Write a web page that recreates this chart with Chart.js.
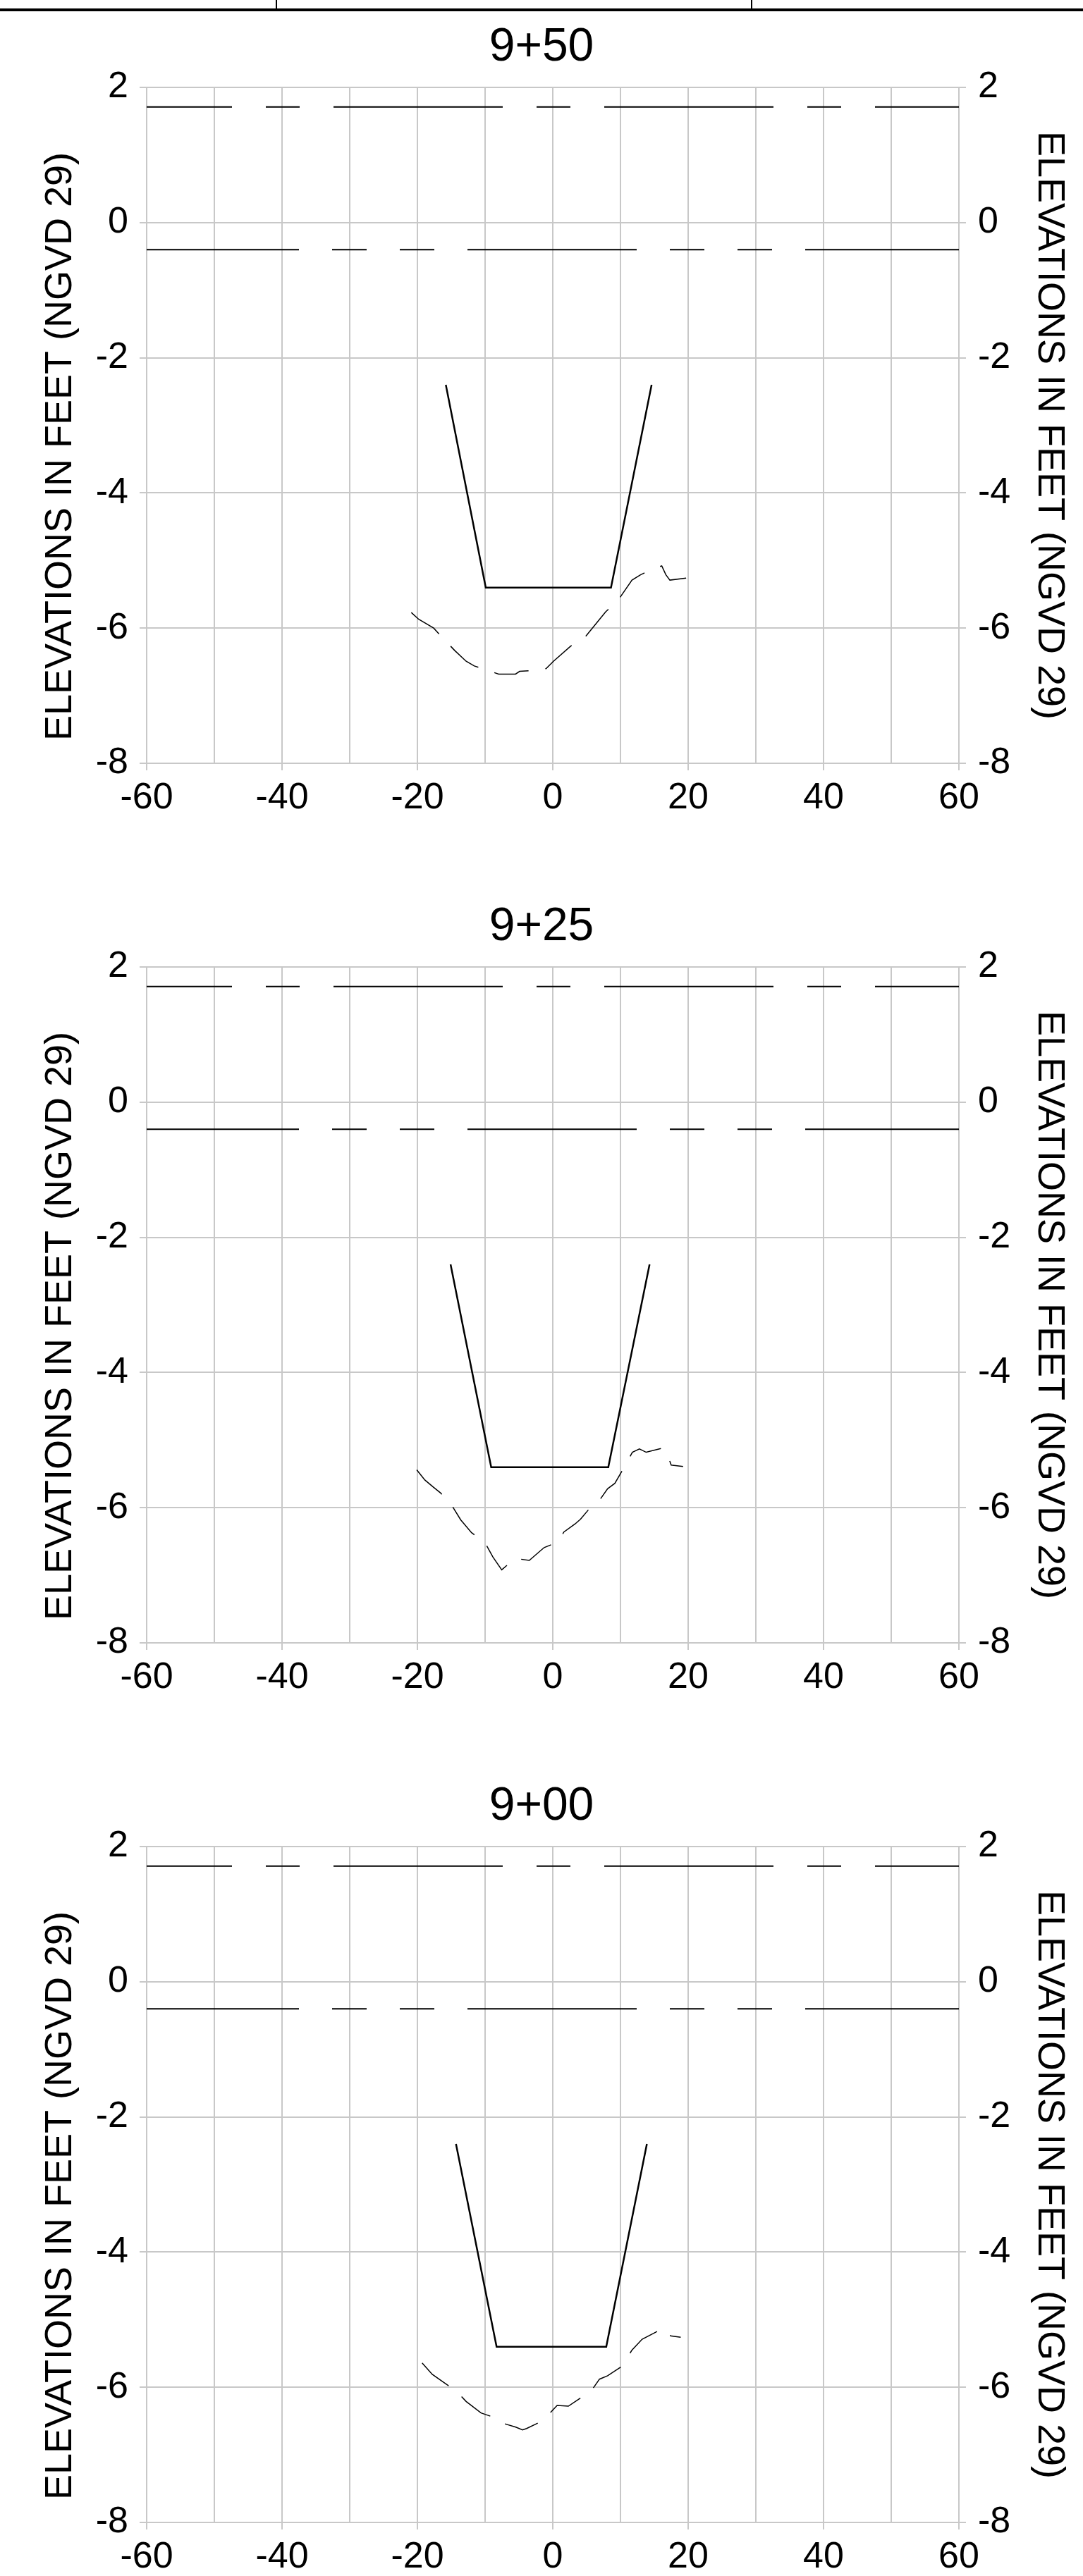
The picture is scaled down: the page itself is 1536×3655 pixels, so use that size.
<!DOCTYPE html>
<html>
<head>
<meta charset="utf-8">
<script src="https://cdn.jsdelivr.net/npm/chart.js@4.4.1/dist/chart.umd.min.js"></script>
<style>
  body { margin: 0; background: #fff; width: 1536px; height: 3655px; position: relative; overflow: hidden; }
  .rule { position: absolute; left: 0; top: 12px; width: 1536px; height: 4px; background: #000; }
  .cell { position: absolute; top: 0; width: 2px; height: 13px; background: #000; }
  canvas { position: absolute; left: 0; }
</style>
</head>
<body>
<div class="rule"></div>
<div class="cell" style="left:391px"></div>
<div class="cell" style="left:1065px"></div>

<script>
const STATIONS = ['9+50', '9+25', '9+00'];
const AXIS_TITLE = 'ELEVATIONS IN FEET (NGVD 29)';
const X_RANGE = [-60, 60];
const Y_RANGE = [-8, 2];
const WATER_LEVELS = [1.71, -0.40];

const CHANNEL_950_X = [-15.8, -9.9, 8.6, 14.6];
const CHANNEL_950_Y = [-2.4, -5.4, -5.4, -2.4];
const CHANNEL_925_X = [-15.1, -9.1, 8.2, 14.3];
const CHANNEL_925_Y = [-2.4, -5.4, -5.4, -2.4];
const CHANNEL_900_X = [-14.3, -8.3, 7.9, 13.9];
const CHANNEL_900_Y = [-2.4, -5.4, -5.4, -2.4];

const GROUND_950_X = [-20.9, -19.8, -17.6, -16.3, -14.5, -12.8, -11.6, -10.4, -8.0, -5.5, -4.9, -3.4, -1.0, 0.1, 2.6, 4.8, 7.8, 9.7, 11.7, 13.0, 15.1, 16.1, 16.7, 17.3, 19.7];
const GROUND_950_Y = [-5.77, -5.87, -6.00, -6.14, -6.33, -6.49, -6.56, -6.60, -6.68, -6.68, -6.64, -6.63, -6.60, -6.49, -6.27, -6.13, -5.76, -5.58, -5.29, -5.21, -5.11, -5.08, -5.21, -5.29, -5.26];
const GROUND_925_X = [-20.1, -18.9, -17.6, -16.6, -14.9, -13.6, -12.0, -10.05, -8.85, -7.54, -5.58, -3.47, -1.28, 0.72, 1.64, 3.3, 4.1, 5.7, 6.77, 8.1, 9.17, 10.5, 11.76, 12.8, 13.8, 16.2, 16.7, 17.5, 19.25];
const GROUND_925_Y = [-5.44, -5.59, -5.70, -5.78, -5.97, -6.18, -6.37, -6.51, -6.73, -6.92, -6.75, -6.78, -6.59, -6.51, -6.36, -6.24, -6.17, -5.98, -5.91, -5.72, -5.64, -5.41, -5.18, -5.13, -5.18, -5.12, -5.15, -5.37, -5.39];
const GROUND_900_X = [-19.3, -17.8, -16.1, -14.2, -12.8, -10.6, -8.26, -7.46, -5.47, -4.47, -3.87, -1.56, 0.64, 2.3, 4.4, 5.5, 6.9, 8.1, 10.2, 11.7, 13.2, 15.3, 16.0, 17.0, 17.4, 18.9];
const GROUND_900_Y = [-5.64, -5.81, -5.93, -6.06, -6.21, -6.38, -6.46, -6.53, -6.59, -6.63, -6.61, -6.50, -6.27, -6.28, -6.14, -6.08, -5.88, -5.83, -5.69, -5.45, -5.29, -5.18, -5.15, -5.15, -5.24, -5.26];

const SECTIONS = [
  { title: STATIONS[0], cx: CHANNEL_950_X, cy: CHANNEL_950_Y, gx: GROUND_950_X, gy: GROUND_950_Y },
  { title: STATIONS[1], cx: CHANNEL_925_X, cy: CHANNEL_925_Y, gx: GROUND_925_X, gy: GROUND_925_Y },
  { title: STATIONS[2], cx: CHANNEL_900_X, cy: CHANNEL_900_Y, gx: GROUND_900_X, gy: GROUND_900_Y },
];

// line styles for the two water levels (upper: long-short, lower: long-short-short)
const WATER_STYLES = [
  { dash: [240, 48, 48, 48], offset: 119 },
  { dash: [240, 47, 49, 47, 49, 47], offset: 24 },
];

const FONT = 'Liberation Sans, Arial, sans-serif';
const GRID = '#c8c8c8';
const STEP = 1248;
const CANVAS_H = 1159;

Chart.defaults.font.family = FONT;
Chart.defaults.color = '#000';

function points(xs, ys) {
  return xs.map((x, i) => ({ x, y: ys[i] }));
}

function waterDataset(level, i) {
  return {
    data: points(X_RANGE, [level, level]),
    borderColor: '#000',
    borderWidth: 2,
    borderDash: WATER_STYLES[i].dash,
    borderDashOffset: WATER_STYLES[i].offset,
  };
}

function makeChart(section, i) {
  const canvas = document.createElement('canvas');
  canvas.width = 1536;
  canvas.height = CANVAS_H;
  canvas.style.top = (i * STEP) + 'px';
  document.body.appendChild(canvas);

  const yCommon = {
    type: 'linear',
    min: Y_RANGE[0],
    max: Y_RANGE[1],
    ticks: { stepSize: 2, font: { size: 52 }, color: '#000' },
    border: { color: GRID, width: 2 },
  };

  return new Chart(canvas, {
    type: 'scatter',
    data: {
      datasets: [
        ...WATER_LEVELS.map(waterDataset),
        {
          data: points(section.cx, section.cy),
          borderColor: '#000',
          borderWidth: 2.5,
        },
        {
          data: points(section.gx, section.gy),
          borderColor: '#000',
          borderWidth: 1.5,
          borderDash: [50, 24],
        },
      ],
    },
    options: {
      responsive: false,
      animation: false,
      showLine: true,
      layout: { padding: 0 },
      elements: { point: { radius: 0 }, line: { tension: 0 } },
      plugins: {
        legend: { display: false },
        tooltip: { enabled: false },
        title: {
          display: true,
          text: section.title,
          color: '#000',
          font: { size: 66, weight: 'normal' },
          padding: { top: 28, bottom: 16.8 },
        },
      },
      scales: {
        x: {
          type: 'linear',
          min: X_RANGE[0],
          max: X_RANGE[1],
          ticks: {
            stepSize: 10,
            autoSkip: false,
            maxRotation: 0,
            padding: 8,
            font: { size: 52 },
            color: '#000',
            callback: v => (v % 20 === 0 ? v : ''),
          },
          grid: {
            color: GRID,
            lineWidth: 2,
            tickLength: 10,
            tickColor: ctx => (ctx.tick && ctx.tick.value % 20 === 0 ? GRID : 'rgba(0,0,0,0)'),
          },
          border: { color: GRID, width: 2 },
          afterFit: s => { s.height = CANVAS_H - 1083; },
        },
        y: {
          ...yCommon,
          position: 'left',
          ticks: { ...yCommon.ticks, padding: 16 },
          grid: { color: GRID, lineWidth: 2, tickLength: 10 },
          title: { display: true, text: AXIS_TITLE + '\u00a0\u00a0\u00a0\u00a0', font: { size: 54 }, color: '#000', padding: { top: 54, bottom: 0 } },
          afterFit: s => { s.width = 208; },
        },
        y2: {
          ...yCommon,
          position: 'right',
          ticks: { ...yCommon.ticks, padding: 17 },
          grid: { color: GRID, lineWidth: 2, tickLength: 10, drawOnChartArea: false },
          title: { display: true, text: AXIS_TITLE, font: { size: 54 }, color: '#000', padding: { top: 16, bottom: 0 } },
          afterFit: s => { s.width = 1536 - 1360; },
        },
      },
    },
  });
}

SECTIONS.forEach(makeChart);
</script>
</body>
</html>
